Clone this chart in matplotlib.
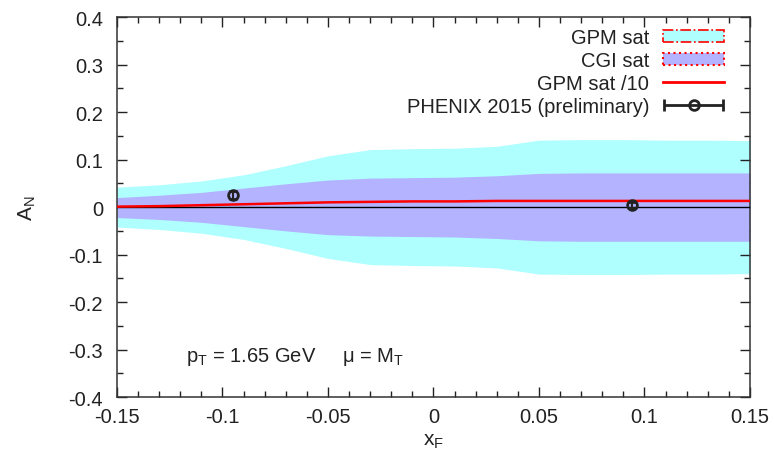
import numpy as np
import matplotlib
matplotlib.use("Agg")
import matplotlib.pyplot as plt
from matplotlib.patches import Patch
from matplotlib.lines import Line2D
from matplotlib.ticker import MultipleLocator, FuncFormatter
from matplotlib.legend_handler import HandlerErrorbar

plt.rcParams['font.family'] = ['Liberation Sans', 'DejaVu Sans']
plt.rcParams['mathtext.fontset'] = 'custom'
plt.rcParams['mathtext.rm'] = 'Liberation Sans'
plt.rcParams['mathtext.it'] = 'Liberation Sans'

# Theory bands (x_F grid, upper/lower edges)
xF = [-0.15, -0.13, -0.11, -0.09, -0.07, -0.05, -0.03, -0.01, 0.01, 0.03, 0.05, 0.07, 0.09, 0.11, 0.13, 0.15]
gpm_up = [0.042, 0.047, 0.055, 0.068, 0.087, 0.108, 0.121, 0.123, 0.124, 0.128, 0.141, 0.142, 0.142, 0.141, 0.141, 0.140]
gpm_lo = [-0.042, -0.047, -0.055, -0.068, -0.087, -0.108, -0.121, -0.123, -0.124, -0.128, -0.141, -0.142, -0.142, -0.141, -0.141, -0.140]
cgi_up = [0.020, 0.025, 0.031, 0.040, 0.049, 0.057, 0.061, 0.062, 0.063, 0.066, 0.071, 0.072, 0.072, 0.072, 0.072, 0.072]
cgi_lo = [-0.022, -0.026, -0.032, -0.041, -0.050, -0.058, -0.061, -0.062, -0.063, -0.066, -0.071, -0.072, -0.072, -0.072, -0.072, -0.072]
gpm_div10 = [0.001, 0.002, 0.004, 0.006, 0.008, 0.010, 0.011, 0.012, 0.012, 0.013, 0.013, 0.013, 0.013, 0.013, 0.013, 0.013]

# PHENIX 2015 preliminary
data_x = [-0.095, 0.094]
data_y = [0.025, 0.004]
data_err = [0.008, 0.006]

FS = 14.5
ink = '#222222'

fig = plt.figure(figsize=(7.74, 4.64), dpi=100)
ax = fig.add_axes([0.151, 0.142, 0.818, 0.819])

cyan = '#b0ffff'
purple = '#b3b3ff'
ax.fill_between(xF, gpm_lo, gpm_up, color=cyan, lw=0, zorder=1)
ax.fill_between(xF, cgi_lo, cgi_up, color=purple, lw=0, zorder=2)
ax.axhline(0, color='black', lw=1, zorder=3)
ax.plot(xF, gpm_div10, color='red', lw=1.8, zorder=4)
ax.errorbar(data_x, data_y, yerr=data_err, fmt='o', mfc='none', mec=ink,
            ecolor=ink, mew=2, ms=7, capsize=3, elinewidth=1.5, zorder=5)

ax.set_xlim(-0.15, 0.15)
ax.set_ylim(-0.4, 0.4)
ax.xaxis.set_major_locator(MultipleLocator(0.05))
ax.xaxis.set_minor_locator(MultipleLocator(0.01))
ax.yaxis.set_major_locator(MultipleLocator(0.1))
ax.yaxis.set_minor_locator(MultipleLocator(0.05))
ax.tick_params(which='both', direction='in', top=True, right=True, labelsize=FS, colors=ink)
ax.tick_params(which='major', length=7, width=1)
ax.tick_params(which='minor', length=4, width=1)
ax.tick_params(axis='x', pad=7)
ax.tick_params(axis='y', pad=10)
for s in ax.spines.values():
    s.set_color('#333333')
    s.set_linewidth(1.1)

fmt = FuncFormatter(lambda v, p: '%g' % round(v, 3))
ax.xaxis.set_major_formatter(fmt)
ax.yaxis.set_major_formatter(fmt)

ax.set_xlabel(r'x$_\mathregular{F}$', fontsize=FS + 0.5, labelpad=4, color=ink)
ax.set_ylabel(r'A$_\mathregular{N}$', fontsize=FS + 0.5, labelpad=22, color=ink)

ax.text(-0.0656, -0.314, r'p$_\mathregular{T}$ = 1.65 GeV     $\mathregular{\mu}$ = M$_\mathregular{T}$',
        fontsize=FS, va='center', ha='center', color=ink)

# Legend handles
h_gpm = Patch(facecolor=cyan, edgecolor='red', linestyle='-.', lw=1.2)
h_cgi = Patch(facecolor=purple, edgecolor='red', linestyle=':', lw=1.5)
h_red = Line2D([], [], color='red', lw=2)
h_dat = ax.errorbar([np.nan], [np.nan], xerr=[1], fmt='o', mfc='none', mec=ink,
                    ecolor=ink, mew=2, ms=7, capsize=4, elinewidth=2)
leg = ax.legend([h_gpm, h_cgi, h_red, h_dat],
                ['GPM sat', 'CGI sat', 'GPM sat /10', 'PHENIX 2015 (preliminary)'],
                loc='upper right', bbox_to_anchor=(0.981, 1.009), markerfirst=False, frameon=False,
                fontsize=FS, handlelength=3.0, handleheight=0.55, labelspacing=0.2,
                handletextpad=0.7, borderaxespad=0.3,
                handler_map={h_dat: HandlerErrorbar(xerr_size=1.45)})
for t in leg.get_texts():
    t.set_color(ink)

fig.savefig('out.png', dpi=100)
